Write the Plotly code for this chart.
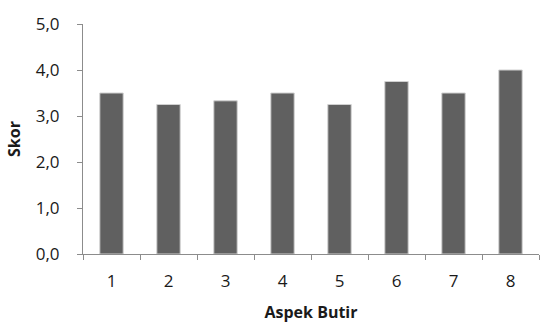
import plotly.graph_objects as go

categories = ["1", "2", "3", "4", "5", "6", "7", "8"]
scores = [3.5, 3.25, 3.33, 3.5, 3.25, 3.75, 3.5, 4.0]
y_ticks = [0, 1, 2, 3, 4, 5]

fig = go.Figure()
fig.add_trace(go.Bar(
    x=categories, y=scores,
    marker=dict(color="#606060", line=dict(color="#d0d0d0", width=1)),
    width=0.41,
))

font_family = "Open Sans, Liberation Sans, sans-serif"
fig.update_layout(
    width=540, height=323,
    margin=dict(l=83, r=1, t=24, b=69),
    paper_bgcolor="white", plot_bgcolor="white",
    separators=",.",
    showlegend=False,
    font=dict(family=font_family, size=17, color="#1a1a1a"),
)
fig.update_xaxes(
    type="category", range=[-0.5, 7.5], automargin=False,
    showline=True, linecolor="#8c8c8c", linewidth=1,
    ticks="outside", ticklen=5, tickcolor="#8c8c8c", tickson="boundaries",
    ticklabelstandoff=12,
    showgrid=False, tickfont=dict(size=17),
    title=dict(text="<b>Aspek Butir</b>", font=dict(size=16), standoff=19),
)
fig.update_yaxes(
    range=[0, 5], tickvals=y_ticks, tickformat=".1f", automargin=False,
    showline=True, linecolor="#8c8c8c", linewidth=1,
    ticks="outside", ticklen=5, tickcolor="#8c8c8c",
    ticklabelstandoff=14,
    showgrid=False, zeroline=False, tickfont=dict(size=17),
    title=dict(text="<b>Skor</b>", font=dict(size=16), standoff=11),
)
fig.write_html("out.html", config={"displayModeBar": False},
               post_script="document.body.style.margin='0';")
